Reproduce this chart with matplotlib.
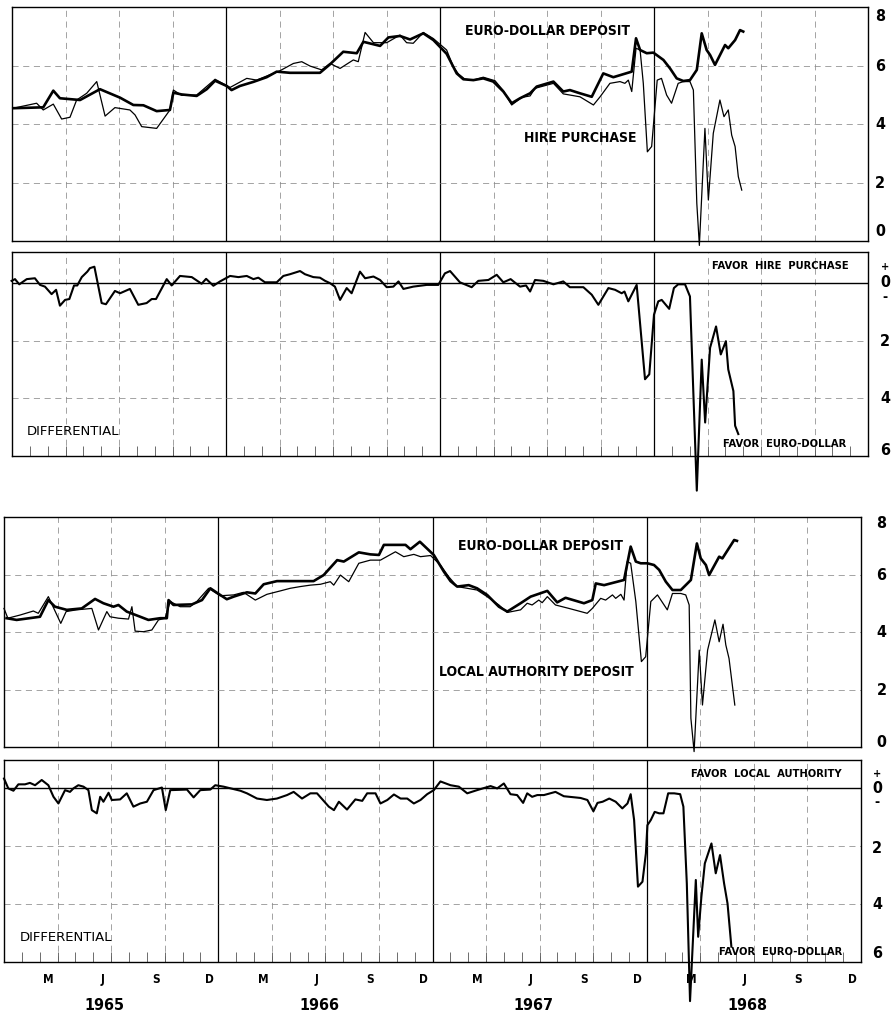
import matplotlib
matplotlib.use("Agg")
import matplotlib.pyplot as plt
import numpy as np

# ── data (fractional year, percent) ──────────────────────────────────────────
ED1_X = [1965.006, 1965.146, 1965.193, 1965.224, 1965.318, 1965.411, 1965.505, 1965.567,
         1965.614, 1965.676, 1965.738, 1965.754, 1965.793, 1965.863, 1965.910, 1965.949,
         1966.003, 1966.026, 1966.065, 1966.128, 1966.190, 1966.237, 1966.299, 1966.439,
         1966.486, 1966.548, 1966.611, 1966.642, 1966.720, 1966.759, 1966.813, 1966.860,
         1966.922, 1966.969, 1967.031, 1967.078, 1967.109, 1967.156, 1967.202, 1967.249,
         1967.296, 1967.335, 1967.374, 1967.421, 1967.452, 1967.530, 1967.576, 1967.607,
         1967.654, 1967.709, 1967.763, 1967.810, 1967.896, 1967.916, 1967.935, 1967.966,
         1967.997, 1968.044, 1968.075, 1968.106, 1968.137, 1968.168, 1968.200, 1968.223,
         1968.246, 1968.262, 1968.285, 1968.332, 1968.347, 1968.379, 1968.402, 1968.417]
ED1_Y = [4.54, 4.57, 5.14, 4.88, 4.82, 5.19, 4.90, 4.65,
         4.64, 4.44, 4.48, 5.07, 5.01, 4.96, 5.19, 5.48,
         5.30, 5.16, 5.30, 5.44, 5.60, 5.79, 5.75, 5.75,
         6.04, 6.47, 6.42, 6.81, 6.67, 6.96, 7.01, 6.89,
         7.10, 6.87, 6.40, 5.73, 5.53, 5.50, 5.56, 5.45,
         5.11, 4.71, 4.88, 5.05, 5.28, 5.45, 5.11, 5.16,
         5.05, 4.93, 5.73, 5.60, 5.79, 6.93, 6.53, 6.42,
         6.44, 6.19, 5.90, 5.56, 5.47, 5.50, 5.85, 7.10,
         6.53, 6.36, 6.02, 6.70, 6.59, 6.87, 7.21, 7.16]

HP_X = [1965.006, 1965.115, 1965.146, 1965.193, 1965.232, 1965.271, 1965.302, 1965.349,
        1965.396, 1965.435, 1965.481, 1965.551, 1965.575, 1965.606, 1965.676, 1965.738,
        1965.754, 1965.793, 1965.863, 1965.949, 1966.019, 1966.097, 1966.144, 1966.190,
        1966.252, 1966.315, 1966.354, 1966.393, 1966.447, 1966.486, 1966.533, 1966.595,
        1966.618, 1966.650, 1966.689, 1966.751, 1966.813, 1966.844, 1966.875, 1966.922,
        1966.969, 1967.031, 1967.062, 1967.086, 1967.117, 1967.156, 1967.202, 1967.257,
        1967.296, 1967.335, 1967.382, 1967.421, 1967.444, 1967.530, 1967.576, 1967.654,
        1967.717, 1967.748, 1967.794, 1967.841, 1967.864, 1967.880, 1967.896, 1967.916,
        1967.935, 1967.950, 1967.969, 1967.989, 1968.015, 1968.035, 1968.059, 1968.082,
        1968.113, 1968.137, 1968.168, 1968.184, 1968.200, 1968.212, 1968.238, 1968.254,
        1968.277, 1968.308, 1968.327, 1968.347, 1968.363, 1968.379, 1968.394, 1968.410]
HP_Y = [4.54, 4.71, 4.48, 4.68, 4.17, 4.23, 4.82, 5.05,
        5.45, 4.27, 4.56, 4.48, 4.31, 3.91, 3.85, 4.48,
        5.16, 4.98, 4.99, 5.53, 5.25, 5.56, 5.50, 5.64,
        5.82, 6.07, 6.13, 5.98, 5.85, 6.07, 5.90, 6.19,
        6.13, 7.13, 6.78, 6.78, 7.04, 6.78, 6.76, 7.13,
        6.92, 6.53, 5.96, 5.71, 5.53, 5.50, 5.60, 5.48,
        5.14, 4.65, 4.91, 4.96, 5.22, 5.39, 5.03, 4.93,
        4.65, 4.93, 5.39, 5.45, 5.39, 5.50, 5.11, 6.59,
        6.53, 5.39, 3.05, 3.23, 5.50, 5.56, 4.99, 4.71,
        5.39, 5.45, 5.45, 5.16, 1.29, -0.15, 3.85, 1.40,
        3.68, 4.82, 4.25, 4.48, 3.62, 3.23, 2.20, 1.74]

D1_X = [1964.998, 1965.014, 1965.034, 1965.069, 1965.107, 1965.131, 1965.154, 1965.185,
        1965.206, 1965.224, 1965.248, 1965.268, 1965.290, 1965.305, 1965.326, 1965.352,
        1965.364, 1965.385, 1965.419, 1965.439, 1965.481, 1965.505, 1965.551, 1965.590,
        1965.629, 1965.653, 1965.673, 1965.723, 1965.746, 1965.785, 1965.840, 1965.886,
        1965.907, 1965.941, 1965.972, 1966.019, 1966.058, 1966.097, 1966.128, 1966.151,
        1966.182, 1966.237, 1966.268, 1966.299, 1966.346, 1966.369, 1966.408, 1966.439,
        1966.463, 1966.486, 1966.509, 1966.533, 1966.564, 1966.587, 1966.626, 1966.650,
        1966.689, 1966.720, 1966.751, 1966.782, 1966.806, 1966.829, 1966.875, 1966.938,
        1966.992, 1967.023, 1967.047, 1967.093, 1967.148, 1967.179, 1967.226, 1967.265,
        1967.296, 1967.330, 1967.374, 1967.402, 1967.421, 1967.444, 1967.483, 1967.530,
        1967.576, 1967.607, 1967.670, 1967.709, 1967.740, 1967.787, 1967.818, 1967.849,
        1967.862, 1967.880, 1967.919, 1967.958, 1967.978, 1968.000, 1968.020, 1968.036,
        1968.071, 1968.093, 1968.113, 1968.145, 1968.168, 1968.200, 1968.223, 1968.239,
        1968.262, 1968.290, 1968.312, 1968.336, 1968.347, 1968.371, 1968.379, 1968.394]
D1_Y = [0.07, 0.13, -0.05, 0.13, 0.16, -0.07, -0.13, -0.39,
        -0.24, -0.79, -0.59, -0.56, -0.09, -0.09, 0.20, 0.39,
        0.51, 0.56, -0.70, -0.74, -0.28, -0.36, -0.21, -0.76,
        -0.70, -0.56, -0.56, 0.13, -0.09, 0.24, 0.20, -0.03,
        0.14, -0.10, 0.05, 0.24, 0.20, 0.24, 0.13, 0.18,
        0.02, 0.02, 0.24, 0.30, 0.41, 0.30, 0.20, 0.18,
        0.07, -0.01, -0.13, -0.59, -0.18, -0.36, 0.39, 0.16,
        0.22, 0.10, -0.15, -0.13, 0.05, -0.21, -0.13, -0.07,
        -0.07, 0.33, 0.41, 0.02, -0.15, 0.07, 0.10, 0.28,
        0.02, 0.13, -0.13, -0.09, -0.30, 0.10, 0.07, -0.05,
        0.05, -0.15, -0.15, -0.41, -0.76, -0.18, -0.24, -0.36,
        -0.30, -0.64, -0.07, -3.34, -3.17, -1.10, -0.64, -0.59,
        -0.90, -0.18, -0.05, -0.05, -0.47, -7.20, -2.66, -4.84,
        -2.25, -1.51, -2.48, -2.02, -3.00, -3.75, -4.95, -5.24]

ED2_X = [1965.012, 1965.059, 1965.168, 1965.207, 1965.238, 1965.293, 1965.363, 1965.425,
         1965.464, 1965.511, 1965.534, 1965.573, 1965.636, 1965.674, 1965.729, 1965.760,
         1965.768, 1965.791, 1965.877, 1965.924, 1965.963, 1966.009, 1966.040, 1966.072,
         1966.134, 1966.173, 1966.212, 1966.274, 1966.445, 1966.492, 1966.555, 1966.586,
         1966.656, 1966.710, 1966.750, 1966.773, 1966.874, 1966.897, 1966.941, 1967.006,
         1967.053, 1967.084, 1967.115, 1967.169, 1967.208, 1967.255, 1967.310, 1967.349,
         1967.411, 1967.458, 1967.536, 1967.582, 1967.621, 1967.707, 1967.746, 1967.762,
         1967.801, 1967.894, 1967.925, 1967.949, 1967.972, 1968.003, 1968.034, 1968.058,
         1968.089, 1968.120, 1968.159, 1968.190, 1968.206, 1968.234, 1968.252, 1968.276,
         1968.291, 1968.338, 1968.353, 1968.408, 1968.421]
ED2_Y = [4.48, 4.42, 4.53, 5.11, 4.88, 4.77, 4.82, 5.15,
         5.00, 4.88, 4.94, 4.71, 4.53, 4.42, 4.48, 4.48,
         5.11, 4.94, 4.96, 5.11, 5.52, 5.29, 5.14, 5.23,
         5.38, 5.34, 5.66, 5.77, 5.77, 5.98, 6.50, 6.45,
         6.77, 6.70, 6.68, 7.03, 7.03, 6.88, 7.14, 6.68,
         6.10, 5.77, 5.58, 5.63, 5.52, 5.29, 4.88, 4.71,
         5.00, 5.23, 5.43, 5.03, 5.19, 5.00, 5.11, 5.69,
         5.63, 5.81, 6.97, 6.45, 6.39, 6.39, 6.33, 6.16,
         5.75, 5.46, 5.46, 5.69, 5.81, 7.08, 6.56, 6.33,
         5.98, 6.62, 6.56, 7.20, 7.17]

LA_X = [1965.000, 1965.018, 1965.075, 1965.137, 1965.160, 1965.207, 1965.265, 1965.290,
        1965.337, 1965.410, 1965.441, 1965.480, 1965.495, 1965.534, 1965.581, 1965.597,
        1965.612, 1965.651, 1965.690, 1965.721, 1965.752, 1965.776, 1965.822, 1965.869,
        1965.900, 1965.955, 1966.009, 1966.072, 1966.118, 1966.173, 1966.227, 1966.290,
        1966.336, 1966.383, 1966.430, 1966.477, 1966.523, 1966.539, 1966.570, 1966.609,
        1966.656, 1966.710, 1966.757, 1966.827, 1966.866, 1966.913, 1966.944, 1966.991,
        1967.037, 1967.076, 1967.115, 1967.162, 1967.208, 1967.255, 1967.310, 1967.349,
        1967.411, 1967.442, 1967.465, 1967.496, 1967.512, 1967.536, 1967.574, 1967.637,
        1967.722, 1967.746, 1967.785, 1967.808, 1967.840, 1967.855, 1967.879, 1967.894,
        1967.909, 1967.925, 1967.949, 1967.975, 1967.995, 1968.019, 1968.050, 1968.096,
        1968.120, 1968.159, 1968.182, 1968.198, 1968.206, 1968.221, 1968.245, 1968.260,
        1968.284, 1968.318, 1968.338, 1968.356, 1968.369, 1968.384, 1968.411]
LA_Y = [4.82, 4.48, 4.59, 4.73, 4.65, 5.23, 4.30, 4.71,
        4.77, 4.82, 4.07, 4.71, 4.53, 4.48, 4.45, 4.88,
        4.03, 4.01, 4.07, 4.42, 4.48, 5.06, 4.88, 4.88,
        5.06, 5.52, 5.26, 5.29, 5.38, 5.11, 5.31, 5.43,
        5.52, 5.58, 5.63, 5.66, 5.75, 5.63, 5.98, 5.75,
        6.39, 6.50, 6.50, 6.79, 6.62, 6.70, 6.62, 6.66,
        6.33, 5.92, 5.58, 5.52, 5.46, 5.23, 4.94, 4.68,
        4.77, 5.00, 4.94, 5.11, 5.02, 5.23, 4.94, 4.82,
        4.65, 4.82, 5.17, 5.11, 5.29, 5.17, 5.31, 5.11,
        6.45, 6.39, 5.06, 2.97, 3.14, 5.06, 5.29, 4.77,
        5.34, 5.34, 5.29, 4.94, 1.00, -0.16, 3.37, 1.46,
        3.37, 4.42, 3.66, 4.27, 3.55, 3.08, 1.46]

D2_X = [1965.000, 1965.020, 1965.044, 1965.067, 1965.098, 1965.121, 1965.145, 1965.176,
        1965.207, 1965.231, 1965.254, 1965.285, 1965.308, 1965.324, 1965.347, 1965.371,
        1965.394, 1965.410, 1965.433, 1965.449, 1965.464, 1965.488, 1965.503, 1965.542,
        1965.573, 1965.604, 1965.636, 1965.667, 1965.698, 1965.737, 1965.755, 1965.776,
        1965.854, 1965.885, 1965.916, 1965.963, 1965.986, 1966.025, 1966.103, 1966.134,
        1966.181, 1966.227, 1966.274, 1966.321, 1966.352, 1966.391, 1966.430, 1966.461,
        1966.516, 1966.540, 1966.563, 1966.601, 1966.640, 1966.672, 1966.695, 1966.734,
        1966.757, 1966.789, 1966.820, 1966.851, 1966.882, 1966.913, 1966.944, 1966.975,
        1967.006, 1967.037, 1967.084, 1967.123, 1967.162, 1967.208, 1967.271, 1967.302,
        1967.333, 1967.364, 1967.395, 1967.423, 1967.442, 1967.465, 1967.489, 1967.520,
        1967.574, 1967.613, 1967.691, 1967.723, 1967.751, 1967.770, 1967.794, 1967.825,
        1967.855, 1967.886, 1967.910, 1967.925, 1967.941, 1967.959, 1967.980, 1967.996,
        1968.003, 1968.019, 1968.037, 1968.058, 1968.078, 1968.100, 1968.128, 1968.156,
        1968.171, 1968.187, 1968.202, 1968.229, 1968.240, 1968.255, 1968.271, 1968.302,
        1968.322, 1968.342, 1968.361, 1968.377, 1968.395]
D2_Y = [0.33, -0.01, -0.09, 0.13, 0.13, 0.18, 0.10, 0.28,
        0.10, -0.30, -0.53, -0.07, -0.13, -0.01, 0.10, 0.05,
        -0.07, -0.76, -0.87, -0.30, -0.47, -0.16, -0.41, -0.39,
        -0.18, -0.64, -0.53, -0.47, -0.07, 0.02, -0.76, -0.07,
        -0.05, -0.32, -0.07, -0.05, 0.10, 0.05, -0.09, -0.18,
        -0.36, -0.41, -0.36, -0.24, -0.13, -0.36, -0.18, -0.18,
        -0.64, -0.76, -0.47, -0.74, -0.39, -0.44, -0.18, -0.18,
        -0.53, -0.41, -0.22, -0.36, -0.36, -0.53, -0.41, -0.21,
        -0.07, 0.23, 0.10, 0.05, -0.18, -0.07, 0.07, -0.01,
        0.16, -0.21, -0.24, -0.51, -0.18, -0.30, -0.24, -0.24,
        -0.13, -0.28, -0.34, -0.41, -0.80, -0.51, -0.47, -0.36,
        -0.47, -0.70, -0.53, -0.21, -1.10, -3.40, -3.23, -2.25,
        -1.28, -1.10, -0.82, -0.87, -0.87, -0.18, -0.18, -0.21,
        -0.64, -3.29, -7.35, -3.17, -5.13, -3.75, -2.60, -1.91,
        -2.94, -2.31, -3.29, -3.98, -5.47]

MONTH_LABELS = ["M", "J", "S", "D"]
YEARS = [1965, 1966, 1967, 1968]

# ── style ────────────────────────────────────────────────────────────────────
W, H = 894, 1011

fig = plt.figure(figsize=(W / 100, H / 100), dpi=100, facecolor="white")


def px_axes(x0, y0, x1, y1):
    return fig.add_axes([x0 / W, 1 - y1 / H, (x1 - x0) / W, (y1 - y0) / H])


ax1 = px_axes(12, 7, 868, 241)
ax2 = px_axes(12, 252, 868, 456)
ax3 = px_axes(4, 517, 861, 747)
ax4 = px_axes(4, 760, 861, 962)

grid_kw = dict(color="#8a8a8a", lw=0.55, ls=(0, (8, 6)), zorder=1)
quarters = [y + q for y in YEARS for q in (0.25, 0.5, 0.75)]
months = [y + m / 12 for y in YEARS for m in range(1, 12)]

for ax in (ax1, ax2, ax3, ax4):
    ax.set_xlim(1965, 1969)
    for sp in ax.spines.values():
        sp.set_linewidth(1.0)
        sp.set_color("black")
    for q in quarters:
        ax.axvline(q, **grid_kw)
    for y in YEARS[1:]:
        ax.axvline(y, color="black", lw=0.9, zorder=1)
    ax.set_xticks([])
    ax.set_yticks([])

for ax in (ax1, ax3):
    ax.set_ylim(0, 8)
    for g in (2, 4, 6):
        ax.axhline(g, **grid_kw)

ax2.set_ylim(-6, 1.07)
ax4.set_ylim(-6, 0.97)
for ax in (ax2, ax4):
    ax.axhline(0, color="black", lw=1.0, zorder=2)
    for g in (-2, -4):
        ax.axhline(g, **grid_kw)
    ax.set_xticks(months, minor=True)
    ax.tick_params(which="minor", direction="in", length=7, width=0.6,
                   color="#555555", bottom=True, top=False)

# ── lines ────────────────────────────────────────────────────────────────────
ax1.plot(HP_X, HP_Y, color="black", lw=0.9, zorder=3, clip_on=False)
ax1.plot(ED1_X, ED1_Y, color="black", lw=1.9, zorder=4, clip_on=False)
ax2.plot(D1_X, D1_Y, color="black", lw=1.5, zorder=4, clip_on=False)
ax3.plot(LA_X, LA_Y, color="black", lw=0.9, zorder=3, clip_on=False)
ax3.plot(ED2_X, ED2_Y, color="black", lw=1.9, zorder=4, clip_on=False)
ax4.plot(D2_X, D2_Y, color="black", lw=1.5, zorder=4, clip_on=False)

# ── labels ───────────────────────────────────────────────────────────────────
lab = dict(fontfamily="DejaVu Sans", fontstretch="condensed", fontweight="bold",
           color="black")

ax1.text(1967.89, 7.18, "EURO-DOLLAR DEPOSIT", ha="right", va="center", fontsize=10, **lab)
ax1.text(1967.92, 3.52, "HIRE PURCHASE", ha="right", va="center", fontsize=10, **lab)
ax2.text(1968.59, 0.60, "FAVOR  HIRE  PURCHASE", ha="center", va="center", fontsize=8, **lab)
ax2.text(1968.61, -5.59, "FAVOR  EURO-DOLLAR", ha="center", va="center", fontsize=8, **lab)
ax2.text(1965.07, -5.14, "DIFFERENTIAL", ha="left", va="center", fontsize=9.5,
         fontfamily="DejaVu Sans", color="black")

ax3.text(1967.888, 6.99, "EURO-DOLLAR DEPOSIT", ha="right", va="center", fontsize=10, **lab)
ax3.text(1967.939, 2.61, "LOCAL AUTHORITY DEPOSIT", ha="right", va="center", fontsize=10, **lab)
ax4.text(1968.556, 0.48, "FAVOR  LOCAL  AUTHORITY", ha="center", va="center", fontsize=8, **lab)
ax4.text(1968.626, -5.66, "FAVOR  EURO-DOLLAR", ha="center", va="center", fontsize=8, **lab)
ax4.text(1965.075, -5.17, "DIFFERENTIAL", ha="left", va="center", fontsize=9.5,
         fontfamily="DejaVu Sans", color="black")

# right-hand scales
for ax, xf, vals in (
    (ax1, 1.014, [(7.66, "8"), (5.95, "6"), (3.97, "4"), (1.98, "2"), (0.31, "0")]),
    (ax3, 1.024, [(7.79, "8"), (5.95, "6"), (3.97, "4"), (1.95, "2"), (0.17, "0")]),
):
    for v, s in vals:
        ax.text(xf, v, s, transform=ax.get_yaxis_transform(), ha="center",
                va="center", fontsize=11.5, clip_on=False, **lab)

for ax, xf, plus, zero, minus, vals in (
    (ax2, 1.02, 0.55, 0.0, -0.48, [(-2.03, "2"), (-4.0, "4"), (-5.8, "6")]),
    (ax4, 1.019, 0.48, -0.03, -0.48, [(-2.07, "2"), (-4.03, "4"), (-5.69, "6")]),
):
    tr = ax.get_yaxis_transform()
    ax.text(xf, plus, "+", transform=tr, ha="center", va="center", fontsize=8, **lab)
    ax.text(xf, zero, "0", transform=tr, ha="center", va="center", fontsize=11.5, **lab)
    ax.text(xf, minus, "-", transform=tr, ha="center", va="center", fontsize=10, **lab)
    for v, s in vals:
        ax.text(xf, v, s, transform=tr, ha="center", va="center", fontsize=11.5, **lab)

# month letters and years under the bottom panel
xt = ax4.get_xaxis_transform()
for y in YEARS:
    for i, m in enumerate(MONTH_LABELS):
        ax4.text(y + (2.5 + 3 * i) / 12, -0.089, m, transform=xt, ha="center",
                 va="center", fontsize=8.5, clip_on=False, **lab)
    ax4.text(y + 0.47, -0.213, str(y), transform=xt, ha="center", va="center",
             fontsize=11.5, clip_on=False, **lab)

fig.savefig("out.png", dpi=100, facecolor="white")
